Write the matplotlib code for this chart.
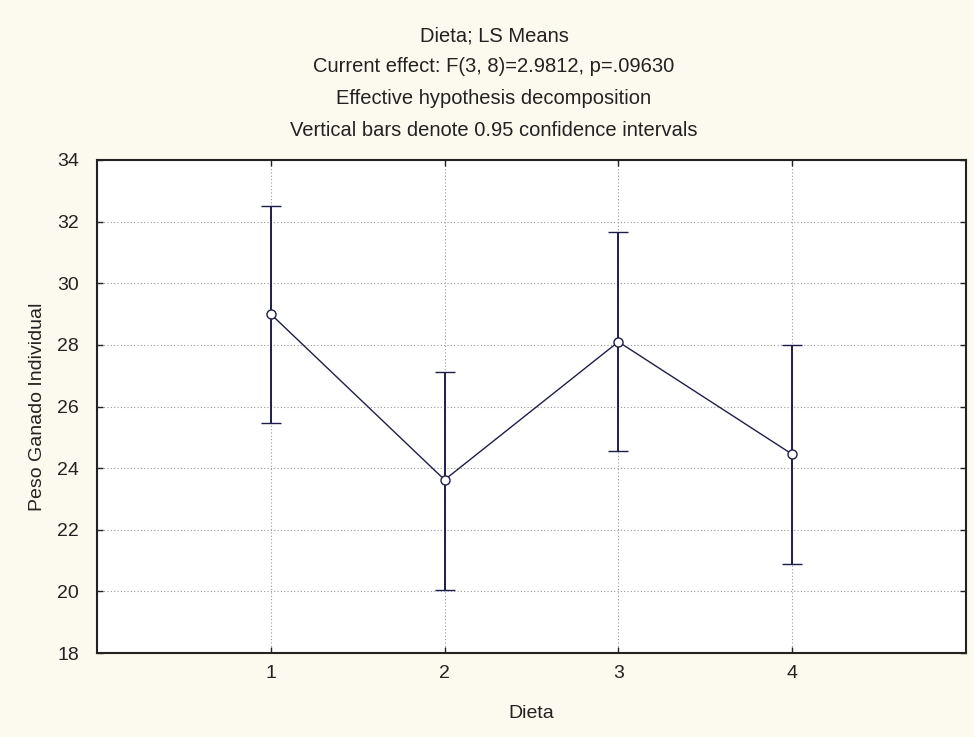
import matplotlib
matplotlib.use("Agg")
import matplotlib.pyplot as plt

plt.rcParams['font.family'] = ['Liberation Sans', 'DejaVu Sans']

dieta = [1, 2, 3, 4]
means = [29.0, 23.62, 28.1, 24.45]
lower = [25.45, 20.05, 24.57, 20.9]
upper = [32.52, 27.12, 31.65, 28.0]

title_lines = ["Dieta; LS Means",
               "Current effect: F(3, 8)=2.9812, p=.09630",
               "Effective hypothesis decomposition",
               "Vertical bars denote 0.95 confidence intervals"]

bg = '#FCF9EE'
line_col = '#1E1E4A'
txt = '#222222'

fig = plt.figure(figsize=(9.74, 7.37), dpi=100, facecolor=bg)
ax = fig.add_axes([97/974, 1-653/737, (966-97)/974, (653-160)/737])
ax.set_facecolor('white')

yerr = [[m - l for m, l in zip(means, lower)], [u - m for m, u in zip(means, upper)]]
ax.errorbar(dieta, means, yerr=yerr, color=line_col, lw=1.0, elinewidth=1.4,
            capsize=7.5, capthick=1.4, marker='o', markersize=6.5,
            markerfacecolor='white', markeredgecolor=line_col, markeredgewidth=1.0,
            zorder=3)

ax.set_xlim(0, 5)
ax.set_ylim(18, 34)
ax.set_xticks(dieta)
ax.set_yticks(range(18, 35, 2))
ax.grid(True, color='#9a9a9a', linestyle=(0, (1, 2)), linewidth=0.8)
ax.tick_params(direction='in', length=4, width=1, labelsize=14, colors=txt,
               top=True, right=True)
ax.tick_params(axis='x', pad=9)
ax.tick_params(axis='y', pad=13)
for s in ax.spines.values():
    s.set_linewidth(1.5)
    s.set_color(txt)

ax.set_xlabel("Dieta", fontsize=14, color=txt, labelpad=16)
ax.set_ylabel("Peso Ganado Individual", fontsize=14, color=txt, labelpad=8)

ys = [36, 67, 99, 130]
for t, y in zip(title_lines, ys):
    fig.text(494/974, 1 - y/737, t, ha='center', va='center', fontsize=14.5, color=txt)

fig.savefig("out.png", dpi=100, facecolor=bg)
